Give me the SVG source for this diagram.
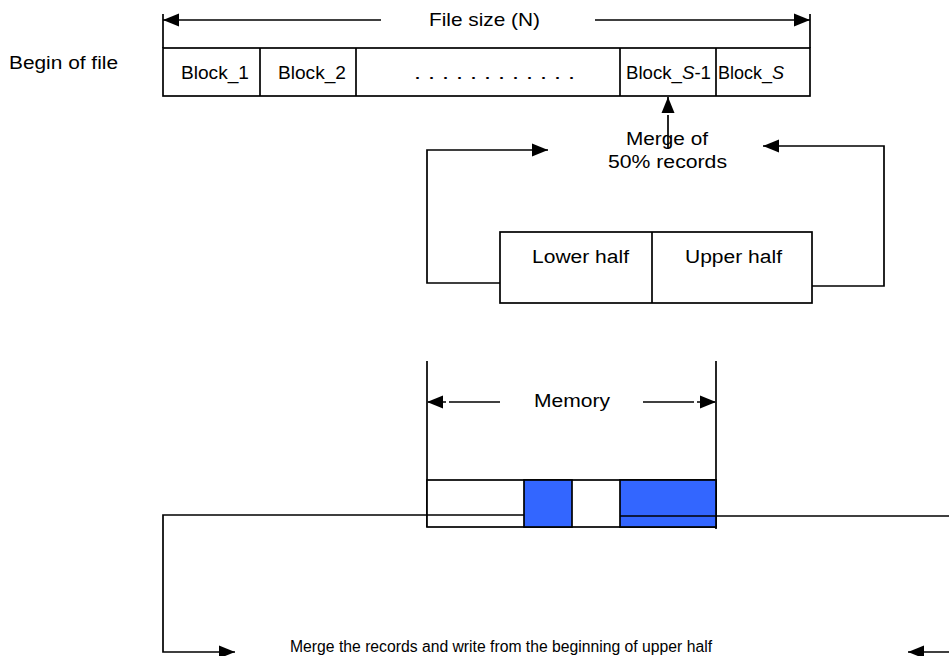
<svg xmlns="http://www.w3.org/2000/svg" width="949" height="656" viewBox="0 0 949 656">
<style>
.ln{fill:none;stroke:#000;stroke-width:1.7}
.bx{fill:#fff;stroke:#000;stroke-width:1.7}
.bl{fill:#3366ff;stroke:#000;stroke-width:1.7}
.t{font-family:"Liberation Sans",Arial,sans-serif;font-size:18px;fill:#000}
.ts{font-family:"Liberation Sans",Arial,sans-serif;font-size:16px;fill:#000}
</style>
<defs>
<marker id="ah" markerUnits="userSpaceOnUse" markerWidth="16" markerHeight="14" refX="16" refY="7" orient="auto">
<path d="M0,0.5 L16,7 L0,13.5 z" fill="#000"/>
</marker>
</defs>
<rect width="949" height="656" fill="#fff"/>

<g id="begin-label">
<text class="t" x="9" y="69" textLength="109" lengthAdjust="spacingAndGlyphs">Begin of file</text>
</g>

<g id="file-size">
<line class="ln" x1="163" y1="14" x2="163" y2="48"/>
<line class="ln" x1="810" y1="14" x2="810" y2="48"/>
<text class="t" x="429" y="26" style="font-size:19px" textLength="111" lengthAdjust="spacingAndGlyphs">File size (N)</text>
</g>

<g id="file-blocks">
<rect class="bx" x="163" y="48" width="647" height="48"/>
<line class="ln" x1="260" y1="48" x2="260" y2="96"/>
<line class="ln" x1="356" y1="48" x2="356" y2="96"/>
<line class="ln" x1="620" y1="48" x2="620" y2="96"/>
<line class="ln" x1="716" y1="48" x2="716" y2="96"/>
<text class="t" x="181" y="79" textLength="68" lengthAdjust="spacingAndGlyphs">Block_1</text>
<text class="t" x="278" y="79" textLength="68" lengthAdjust="spacingAndGlyphs">Block_2</text>
<text class="t" x="414" y="79" textLength="161" lengthAdjust="spacingAndGlyphs">. . . . . . . . . . . .</text>
<text class="t" x="626" y="79" textLength="85" lengthAdjust="spacingAndGlyphs">Block_<tspan font-style="italic">S</tspan>-1</text>
<text class="t" x="718" y="79" textLength="66" lengthAdjust="spacingAndGlyphs">Block_<tspan font-style="italic">S</tspan></text>
</g>

<g id="merge-label">
<text class="t" x="626" y="145" textLength="82" lengthAdjust="spacingAndGlyphs">Merge of</text>
<text class="t" x="608" y="168" textLength="119" lengthAdjust="spacingAndGlyphs">50% records</text>
</g>

<g id="halves">
<rect class="bx" x="500" y="232" width="312" height="71"/>
<line class="ln" x1="652" y1="232" x2="652" y2="303"/>
<text class="t" x="532" y="263" textLength="97" lengthAdjust="spacingAndGlyphs">Lower half</text>
<text class="t" x="685" y="263" textLength="97" lengthAdjust="spacingAndGlyphs">Upper half</text>
</g>

<g id="memory">
<line class="ln" x1="427" y1="361" x2="427" y2="527"/>
<line class="ln" x1="716" y1="361" x2="716" y2="529"/>
<text class="t" x="534" y="407" textLength="76" lengthAdjust="spacingAndGlyphs">Memory</text>
<rect class="bx" x="427" y="480" width="289" height="47"/>
<rect class="bl" x="524" y="480" width="48" height="47"/>
<rect class="bl" x="620" y="480" width="96" height="47"/>
</g>

<g id="bottom-label">
<text class="ts" x="290" y="652" textLength="422" lengthAdjust="spacingAndGlyphs">Merge the records and write from the beginning of upper half</text>
</g>

<g id="connectors">
<path class="ln" d="M381,20 L163,20" marker-end="url(#ah)"/>
<path class="ln" d="M595,20 L810,20" marker-end="url(#ah)"/>
<path class="ln" d="M668,148 L668,118"/>
<path class="ln" d="M668,118 L668,97" stroke-dasharray="3 3" marker-end="url(#ah)"/>
<path class="ln" d="M500,283 L427,283 L427,150 L548,150" marker-end="url(#ah)"/>
<path class="ln" d="M812,286 L884,286 L884,146 L763,146" marker-end="url(#ah)"/>
<path class="ln" d="M500,402 L453,402"/>
<path class="ln" d="M453,402 L427,402" stroke-dasharray="4 3" marker-end="url(#ah)"/>
<path class="ln" d="M643,402 L690,402"/>
<path class="ln" d="M690,402 L716,402" stroke-dasharray="4 3" marker-end="url(#ah)"/>
<path class="ln" d="M524,515 L163,515 L163,652 L235,652" marker-end="url(#ah)"/>
<path class="ln" d="M620,516 L949,516"/>
<path class="ln" d="M949,652 L908,652" marker-end="url(#ah)"/>
</g>
</svg>
